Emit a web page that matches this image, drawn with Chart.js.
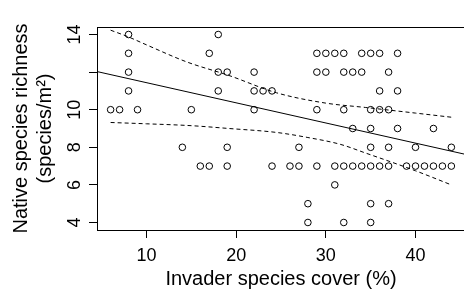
<!DOCTYPE html>
<html>
<head>
<meta charset="utf-8">
<script src="https://cdn.jsdelivr.net/npm/chart.js@4"></script>
<style>
  html, body { margin: 0; padding: 0; background: #fff; overflow: hidden; }
</style>
</head>
<body>
<canvas id="chart" width="470" height="289"></canvas>
<script>
// invader cover (%) and native richness, one entry per plot
const cover = [
  8, 18,
  8, 17, 29, 30, 31, 32, 34, 35, 36, 38,
  8, 18, 19, 22, 29, 30, 32, 33, 34, 37,
  8, 18, 22, 23, 24, 36, 38,
  6, 7, 9, 15, 22, 29, 32, 35, 36, 37,
  33, 35, 38, 42,
  14, 19, 27, 35, 37, 40, 44,
  16, 17, 19, 24, 26, 27, 29, 31, 32, 33, 34, 35, 36, 37, 39, 40, 41, 42, 43, 44,
  31,
  28, 35, 37,
  28, 32, 35
];
const richness = [
  14, 14,
  13, 13, 13, 13, 13, 13, 13, 13, 13, 13,
  12, 12, 12, 12, 12, 12, 12, 12, 12, 12,
  11, 11, 11, 11, 11, 11, 11,
  10, 10, 10, 10, 10, 10, 10, 10, 10, 10,
  9, 9, 9, 9,
  8, 8, 8, 8, 8, 8, 8,
  7, 7, 7, 7, 7, 7, 7, 7, 7, 7, 7, 7, 7, 7, 7, 7, 7, 7, 7, 7,
  6,
  5, 5, 5,
  4, 4, 4
];

// fitted line and confidence band
const fitX = [4.48, 45.52];
const fitY = [12.03, 7.63];
const upperX = [6, 8, 10, 14.5, 19.2, 24.5, 30, 34.4, 40, 44];
const upperY = [14.23, 13.87, 13.45, 12.54, 11.82, 10.9, 10.35, 10.12, 9.82, 9.6];
const lowerX = [6, 10, 15, 19.2, 24.5, 28, 31.6, 34.4, 40, 44];
const lowerY = [9.32, 9.25, 9.15, 9.0, 8.79, 8.52, 8.16, 7.7, 6.75, 6.0];

const xTicks = [10, 20, 30, 40];
const yTicks = [4, 6, 8, 10, 12, 14];
const yTickLabels = ['4', '6', '8', '10', '', '14'];

function pairs(xs, ys) {
  return xs.map((x, i) => ({ x: x, y: ys[i] }));
}

Chart.defaults.font.family = '"Liberation Sans", Arial, Helvetica, sans-serif';
Chart.defaults.color = '#000';

const framePlugin = {
  id: 'frame',
  afterDatasetsDraw(chart) {
    const { ctx, chartArea: a } = chart;
    ctx.save();
    ctx.strokeStyle = '#000';
    ctx.lineWidth = 1;
    ctx.strokeRect(Math.round(a.left) + 0.5, Math.round(a.top) + 0.5,
      Math.round(a.right - a.left), Math.round(a.bottom - a.top));
    ctx.restore();
  }
};

const lineStyle = { showLine: true, pointRadius: 0, borderColor: '#000', borderWidth: 1, fill: false };

new Chart(document.getElementById('chart'), {
  type: 'scatter',
  data: {
    datasets: [
      {
        data: pairs(cover, richness),
        pointRadius: 3.3,
        pointBorderWidth: 1,
        pointBorderColor: '#000',
        pointBackgroundColor: 'rgba(0,0,0,0)'
      },
      Object.assign({ data: pairs(fitX, fitY) }, lineStyle),
      Object.assign({ data: pairs(upperX, upperY), borderDash: [4, 3], cubicInterpolationMode: 'monotone' }, lineStyle),
      Object.assign({ data: pairs(lowerX, lowerY), borderDash: [4, 3], cubicInterpolationMode: 'monotone' }, lineStyle)
    ]
  },
  options: {
    responsive: false,
    animation: false,
    devicePixelRatio: 1,
    layout: { padding: { top: 27, right: 3, left: 0, bottom: 0 } },
    plugins: { legend: { display: false }, tooltip: { enabled: false } },
    scales: {
      x: {
        type: 'linear',
        min: 4.48,
        max: 45.52,
        afterBuildTicks: s => { s.ticks = xTicks.map(v => ({ value: v })); },
        afterFit: s => { s.height = 59; },
        ticks: { font: { size: 18 }, padding: 7, color: '#000' },
        grid: { drawOnChartArea: false, tickLength: 8, color: '#000', lineWidth: 1 },
        border: { display: false },
        title: {
          display: true,
          text: 'Invader species cover (%)',
          font: { size: 20, lineHeight: 1.0 },
          padding: { top: 0, bottom: 0 }
        }
      },
      y: {
        type: 'linear',
        min: 3.6,
        max: 14.4,
        afterBuildTicks: s => { s.ticks = yTicks.map(v => ({ value: v })); },
        afterFit: s => { s.width = 97; },
        ticks: {
          font: { size: 18 },
          padding: 4,
          color: '#000',
          minRotation: 90,
          maxRotation: 90,
          crossAlign: 'center',
          callback: v => yTickLabels[yTicks.indexOf(v)]
        },
        grid: { drawOnChartArea: false, tickLength: 8, color: '#000', lineWidth: 1 },
        border: { display: false },
        title: {
          display: true,
          text: ['Native species richness', '(species/m²)'],
          font: { size: 20, lineHeight: 1.2 },
          padding: { top: 9, bottom: 0 }
        }
      }
    }
  },
  plugins: [framePlugin]
});
</script>
</body>
</html>
